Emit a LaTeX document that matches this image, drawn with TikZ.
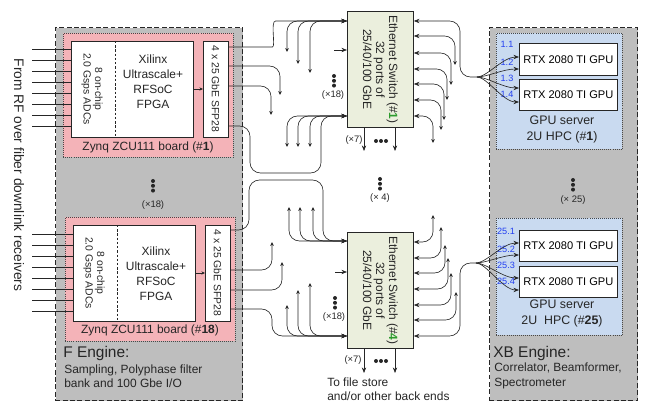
\documentclass[tikz,border=0pt]{standalone}
\usepackage{fontspec}
\setmainfont{Liberation Sans}
\usetikzlibrary{arrows.meta,calc}
\definecolor{enginegray}{HTML}{BEBEBE}
\definecolor{boardpink}{HTML}{F4B3B8}
\definecolor{serverblue}{HTML}{C9DAF0}
\definecolor{switchfill}{HTML}{EBEFDD}
\definecolor{ink}{HTML}{262626}
\definecolor{portblue}{HTML}{2340F0}
\definecolor{switchgreen}{HTML}{2E9B2E}

\begin{document}
\begin{tikzpicture}[
  x=0.25mm,
  y=-0.25mm,
  bigtip/.tip={Stealth[length=1.4mm,width=1.1mm]},
  smalltip/.tip={Stealth[length=1.0mm,width=0.9mm]},
  engine/.style={draw=ink, line width=0.8pt, dash pattern=on 3.4pt off 1.8pt,
    fill=enginegray, anchor=north west, inner sep=0pt},
  board/.style={draw=ink!85, line width=0.45pt, densely dotted,
    fill=boardpink, anchor=north west, inner sep=0pt},
  server/.style={board, fill=serverblue},
  chip/.style={draw=ink, line width=0.6pt, fill=white, anchor=north west, inner sep=0pt},
  switchbox/.style={chip, fill=switchfill},
  wire/.style={draw=ink, line width=0.45pt, rounded corners=2.6mm},
  into/.style={wire, -bigtip},
  stubin/.style={wire, smalltip-bigtip},
  stubout/.style={wire, bigtip-smalltip},
  txt/.style={text=ink, align=center, inner sep=0pt, font=\fontsize{8.5}{10.7}\selectfont},
  smalltxt/.style={txt, font=\fontsize{7.4}{8.2}\selectfont},
  tinytxt/.style={txt, font=\fontsize{6.7}{8}\selectfont},
  headtxt/.style={txt, anchor=west, font=\fontsize{11}{13}\selectfont},
  porttxt/.style={txt, text=portblue, font=\fontsize{6.5}{8}\selectfont},
  gputxt/.style={font=\fontsize{7.9}{9}\selectfont}
]
  \useasboundingbox (0,0) rectangle (647,404);

  % Engine frames.
  \node[engine, minimum width=46.75mm, minimum height=93.25mm] (fEngine) at (55,27) {};
  \node[engine, minimum width=37mm, minimum height=93.25mm] (xbEngine) at (489,27) {};

  % Zynq boards with ADC/FPGA chip and SFP cage.
  \node[board, minimum width=42.5mm, minimum height=31mm] (board1) at (63,33) {};
  \node[chip, minimum width=30.5mm, minimum height=24mm] (fpga1) at (71,41) {};
  \node[chip, minimum width=6.25mm, minimum height=24mm] (sfp1) at (203,41) {};
  \node[board, minimum width=42.5mm, minimum height=31mm] (board18) at (65,217) {};
  \node[chip, minimum width=30.5mm, minimum height=24mm] (fpga18) at (73,225) {};
  \node[chip, minimum width=6.25mm, minimum height=24mm] (sfp18) at (205,225) {};
  \draw[ink, line width=0.6pt, dash pattern=on 1.7pt off 1.3pt]
    (fpga1.north -| 115,0) -- (fpga1.south -| 115,0);
  \draw[ink, line width=0.6pt, dash pattern=on 1.7pt off 1.3pt]
    (fpga18.north -| 117,0) -- (fpga18.south -| 117,0);

  \node[smalltxt, rotate=-90] (adcText1) at (92,89) {8 on-chip\\2.0 Gsps ADCs};
  \node[txt] (fpgaText1) at (153,82) {Xilinx\\Ultrascale+\\RFSoC\\FPGA};
  \node[smalltxt, rotate=-90] (sfpText1) at (215.5,89) {4 x 25 GbE SFP28};
  \node[txt] (boardText1) at (148,147) {Zynq ZCU111 board (\#\textbf{1})};
  \node[smalltxt, rotate=-90] (adcText18) at (94,273) {8 on-chip\\2.0 Gsps ADCs};
  \node[txt] (fpgaText18) at (156,274) {Xilinx\\Ultrascale+\\RFSoC\\FPGA};
  \node[smalltxt, rotate=-90] (sfpText18) at (217.5,273) {4 x 25 GbE SFP28};
  \node[txt] (boardText18) at (150,330) {Zynq ZCU111 board (\#\textbf{18})};

  \draw[wire, -{Stealth[length=0.9mm,width=0.8mm]}] (fpga1.east |- 0,89) -- (sfp1.west |- 0,89);
  \draw[wire, -{Stealth[length=0.9mm,width=0.8mm]}] (fpga18.east |- 0,273) -- (sfp18.west |- 0,273);

  % RF inputs, eight per board.
  \foreach \i in {0,...,7} {
    \draw[wire] (32,{49+11*\i}) -- (fpga1.west |- 0,{49+11*\i});
    \draw[wire] (32,{234+11*\i}) -- (fpga18.west |- 0,{234+11*\i});
  }

  % Ethernet switches.
  \node[switchbox, minimum width=16.5mm, minimum height=29mm] (sw1) at (347,11) {};
  \node[switchbox, minimum width=16.5mm, minimum height=29mm] (sw4) at (347,232) {};
  \node[txt, rotate=-90, font=\fontsize{8.5}{9.3}\selectfont] (swText1) at (sw1.center)
    {Ethernet Switch (\#\textcolor{switchgreen}{\textbf{1}})\\32 ports of\\25/40/100 GbE};
  \node[txt, rotate=-90, font=\fontsize{8.5}{9.3}\selectfont] (swText4) at (sw4.center)
    {Ethernet Switch (\#\textcolor{switchgreen}{\textbf{4}})\\32 ports of\\25/40/100 GbE};

  % GPU servers.
  \node[server, minimum width=31.5mm, minimum height=29mm] (srv1) at (496,33) {};
  \node[chip, gputxt, minimum width=24.5mm, minimum height=8mm] (gpu1a) at (519,43) {RTX 2080 TI GPU};
  \node[chip, gputxt, minimum width=24.5mm, minimum height=7.75mm] (gpu1b) at (519,79) {RTX 2080 TI GPU};
  \node[txt, font=\fontsize{8.8}{11.4}\selectfont] (srvText1) at (562,129)
    {GPU server\\2U HPC (\#\textbf{1})};
  \node[server, minimum width=31.5mm, minimum height=29.25mm] (srv25) at (496,218) {};
  \node[chip, gputxt, minimum width=24.5mm, minimum height=7.75mm] (gpu25a) at (519,230) {RTX 2080 TI GPU};
  \node[chip, gputxt, minimum width=24.5mm, minimum height=7.75mm] (gpu25b) at (519,266) {RTX 2080 TI GPU};
  \node[txt, font=\fontsize{8.8}{11.4}\selectfont] (srvText25) at (562,313)
    {GPU server\\2U\ \ HPC (\#\textbf{25})};

  \node[porttxt] (p11) at (507,44) {1.1};
  \node[porttxt] (p12) at (507,62) {1.2};
  \node[porttxt] (p13) at (507,78) {1.3};
  \node[porttxt] (p14) at (507,94) {1.4};
  \node[porttxt] (p251) at (506,231) {25.1};
  \node[porttxt] (p252) at (506,249) {25.2};
  \node[porttxt] (p253) at (506,265) {25.3};
  \node[porttxt] (p254) at (506,281) {25.4};

  % Board 1 to switch 1.
  \draw[into] (sfp1.east |- 0,47) -- (262,47)
    .. controls (276,47) and (270,21) .. (286,21) -- (sw1.west |- 0,21);
  \foreach \x/\e in {287/52, 298/64, 310/73}
    \draw[stubin] (\x,\e) |- (sw1.west |- 0,21);
  \draw[wire, -smalltip] (sfp1.east |- 0,66) -| (280,95);
  \draw[wire, -smalltip] (sfp1.east |- 0,86) -| (271,115);
  \draw[into] (sfp1.east |- 0,126) -- (250,126) -- (250,173) -- (321,173)
    -- (321,116) -- (sw1.west |- 0,116);
  \foreach \x in {287, 298, 310}
    \draw[stubin] (\x,147) |- (sw1.west |- 0,116);
  \draw[into] (334,50) -- (sw1.west |- 0,50);

  % Board 18 to switch 4.
  \draw[into] (sfp18.east |- 0,230) -- (249,230) -- (249,180) -- (323,180)
    -- (323,241) -- (sw4.west |- 0,241);
  \foreach \x in {289, 300, 313}
    \draw[stubin] (\x,207) |- (sw4.west |- 0,241);
  \draw[wire, -smalltip] (sfp18.east |- 0,270) -| (272,242);
  \draw[wire, -smalltip] (sfp18.east |- 0,290) -| (282,262);
  \draw[into] (sfp18.east |- 0,309) -- (272,309) -- (272,336) -- (sw4.west |- 0,336);
  \foreach \x/\e in {287/305, 298/290, 310/283}
    \draw[stubin] (\x,\e) |- (sw4.west |- 0,336);
  \draw[into] (335,272) -- (sw4.west |- 0,272);

  % Switch ports towards the GPU servers.
  \coordinate (fan1) at (477,77);
  \coordinate (fan25) at (476,263);
  \draw[wire, bigtip-] (sw1.east |- 0,21) -- (460,21) -- (460,77) -- (fan1);
  \foreach \y/\x/\e in {36/455/65, 53/451/85, 69/447/100, 84/444/120, 100/441/130, 116/433/143}
    \draw[stubout] (sw1.east |- 0,\y) -| (\x,\e);
  \draw[wire, bigtip-] (sw4.east |- 0,336) -- (460,336) -- (460,263) -- (fan25);
  \foreach \y/\x/\e in {242/433/215, 258/441/227, 273/445/245, 289/448/258, 305/451/273, 320/456/292}
    \draw[stubout] (sw4.east |- 0,\y) -| (\x,\e);

  \foreach \y in {57, 69}
    \draw[into] (fan1) .. controls +(10,0) and +(-16,0) .. (gpu1a.west |- 0,\y);
  \foreach \y in {88, 102}
    \draw[into] (fan1) .. controls +(10,0) and +(-16,0) .. (gpu1b.west |- 0,\y);
  \foreach \y in {243, 255}
    \draw[into] (fan25) .. controls +(10,0) and +(-16,0) .. (gpu25a.west |- 0,\y);
  \foreach \y in {278, 290}
    \draw[into] (fan25) .. controls +(10,0) and +(-16,0) .. (gpu25b.west |- 0,\y);

  % Outputs to back ends.
  \foreach \x in {364, 395} {
    \draw[into] (sw1.south -| \x,0) -- (\x,151);
    \draw[into] (sw4.south -| \x,0) -- (\x,373);
  }
  \node[tinytxt] (out1) at (354,140) {(×7)};
  \node[tinytxt] (out4) at (353,360) {(×7)};
  \foreach \d in {0,1,2} {
    \fill[ink] ({376+5*\d},141) circle[radius=0.5mm];
    \fill[ink] ({376+5*\d},361) circle[radius=0.5mm];
  }

  % Replication marks.
  \foreach \x/\y in {153/181, 334/76, 335/298, 380/179, 573/180}
    \foreach \d in {0,1,2}
      \fill[ink] (\x,{\y+4.8*\d}) circle[radius=0.5mm];
  \node[tinytxt] (repBoard) at (153,205) {(×18)};
  \node[tinytxt] (repSw1) at (333,95) {(×18)};
  \node[tinytxt] (repSw4) at (334,317) {(×18)};
  \node[tinytxt] (repSw) at (380,198) {(× 4)};
  \node[tinytxt] (repSrv) at (573,200) {(× 25)};

  % Captions.
  \node[txt, rotate=-90, font=\fontsize{9.8}{12}\selectfont] (rfText) at (19,175)
    {From RF over fiber downlink receivers};
  \node[headtxt] (fTitle) at (63,353) {F Engine:};
  \node[txt, anchor=west, align=left, font=\fontsize{8.5}{10.2}\selectfont] (fNote) at (64,376)
    {Sampling, Polyphase filter\\bank and 100 Gbe I/O};
  \node[headtxt] (xbTitle) at (493,353) {XB Engine:};
  \node[txt, anchor=west, align=left, font=\fontsize{8.5}{10.7}\selectfont] (xbNote) at (494,376)
    {Correlator, Beamformer,\\Spectrometer};
  \node[txt, anchor=west, align=left, font=\fontsize{8.5}{10.2}\selectfont] (storeText) at (327,389)
    {To file store\\and/or other back ends};
\end{tikzpicture}
\end{document}
